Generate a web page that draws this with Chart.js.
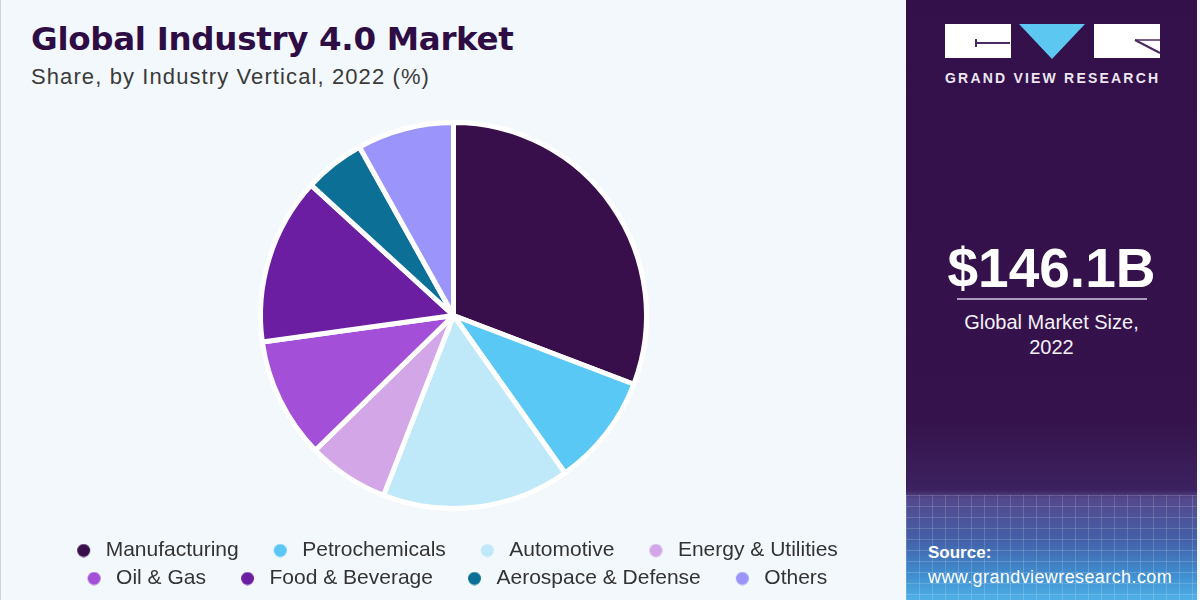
<!DOCTYPE html>
<html>
<head>
<meta charset="utf-8">
<script src="https://cdn.jsdelivr.net/npm/chart.js@4/dist/chart.umd.min.js"></script>
<style>
  html, body { margin:0; padding:0; width:1200px; height:600px; overflow:hidden; background:#f3f8fc; }
  #left { position:absolute; left:0; top:0; width:905px; height:600px; background:#f3f8fc; border-left:1px solid #cfd3d8; box-sizing:border-box; }
  #title { position:absolute; left:30px; top:20px; font-family:"DejaVu Sans", sans-serif; font-weight:bold; font-size:32.5px; color:#2e0d45; white-space:nowrap; letter-spacing:-0.3px; }
  #subtitle { position:absolute; left:30px; top:64px; font-family:"Liberation Sans", Arial, sans-serif; font-size:22px; letter-spacing:1.1px; color:#3a3a3a; white-space:nowrap; }
  #chartWrap { position:absolute; left:0; top:0; width:905px; height:610px; }
  #right { position:absolute; left:906px; top:0; width:291px; height:600px; overflow:hidden;
    background: linear-gradient(to bottom, #33104a 0px, #35124b 420px, #3c2260 490px, #54488c 498px, #4360a8 540px, #3f8ed0 575px, #4fb0e6 600px); }
  #grid { position:absolute; left:0; top:495px; width:291px; height:105px;
    background-image: repeating-linear-gradient(to right, rgba(255,255,255,0.16) 0 1px, transparent 1px 13px),
                      repeating-linear-gradient(to bottom, rgba(255,255,255,0.16) 0 1px, transparent 1px 11px); }
  #edge { position:absolute; left:1197px; top:0; width:3px; height:600px; background:#f3f8fc; }
  .logoRect { position:absolute; top:24px; width:66px; height:34px; background:#ffffff; }
  .rtxt { position:absolute; color:#ffffff; white-space:nowrap; font-family:"Liberation Sans", Arial, sans-serif; }
</style>
</head>
<body>
<div id="left">
  <div id="title">Global Industry 4.0 Market</div>
  <div id="subtitle">Share, by Industry Vertical, 2022 (%)</div>
  <div id="chartWrap"><canvas id="c"></canvas></div>
</div>
<div id="right">
  <div id="grid"></div>
  <div class="logoRect" style="left:39px;"></div>
  <div style="position:absolute; left:69px; top:42px; width:35px; height:2px; background:#4a2a60;"></div>
  <div style="position:absolute; left:69px; top:39px; width:2px; height:8px; background:#4a2a60;"></div>
  <svg style="position:absolute; left:113px; top:24px;" width="67" height="36"><polygon points="0,0 66,0 33,35" fill="#5cc8f2"/></svg>
  <div class="logoRect" style="left:188px;"></div>
  <svg style="position:absolute; left:188px; top:24px;" width="66" height="34"><line x1="41" y1="16" x2="66" y2="29" stroke="#4a2a60" stroke-width="2"/><line x1="41" y1="16" x2="66" y2="16" stroke="#4a2a60" stroke-width="1.5"/></svg>
  <div class="rtxt" style="left:39px; top:70px; font-size:14px; font-weight:bold; letter-spacing:2.2px; color:#ece6f2;">GRAND VIEW RESEARCH</div>
  <div class="rtxt" style="left:0; width:291px; text-align:center; top:236px; font-size:55px; font-weight:bold;">$146.1B</div>
  <div style="position:absolute; left:51px; top:298px; width:190px; height:2px; background:#a99bbb;"></div>
  <div class="rtxt" style="left:0; width:291px; text-align:center; top:310px; font-size:20px; line-height:25px; color:#f4f0f8;">Global Market Size,<br>2022</div>
  <div class="rtxt" style="left:22px; top:543px; font-size:17px; font-weight:bold;">Source:</div>
  <div class="rtxt" style="left:22px; top:567px; font-size:18px; letter-spacing:0.4px;">www.grandviewresearch.com</div>
</div>
<div id="edge"></div>
<script>
const categories = ["Manufacturing", "Petrochemicals", "Automotive", "Energy & Utilities", "Oil & Gas", "Food & Beverage", "Aerospace & Defense", "Others"];
const shares = [30.8, 9.4, 15.7, 6.8, 10.1, 14.0, 5.1, 8.1];
const colors = ["#380f4a", "#5ac8f5", "#bfe9f8", "#d3a6e8", "#a34fd8", "#6b1ea2", "#0b6f96", "#9b95fb"];

function dot(color) {
  const cv = document.createElement('canvas');
  cv.width = 36; cv.height = 14;
  const g = cv.getContext('2d');
  g.fillStyle = color;
  g.beginPath(); g.arc(24.5, 7, 6.5, 0, Math.PI * 2); g.fill();
  return cv;
}
const dots = colors.map(dot);

new Chart(document.getElementById('c'), {
  type: 'pie',
  data: {
    labels: categories,
    datasets: [{ data: shares, backgroundColor: colors, borderColor: '#ffffff', borderWidth: 5, hoverOffset: 0 }]
  },
  options: {
    responsive: true,
    maintainAspectRatio: false,
    animation: false,
    radius: 193,
    layout: { padding: { top: 98, bottom: 11, left: 40, right: 40 } },
    plugins: {
      tooltip: { enabled: false },
      legend: {
        position: 'bottom',
        labels: {
          usePointStyle: true,
          pointStyleWidth: 36,
          padding: 7,
          font: { family: '"Liberation Sans", Arial, sans-serif', size: 21 },
          color: '#333333',
          generateLabels: (chart) => chart.data.labels.map((l, i) => ({
            text: l + ' \u2009',
            fillStyle: colors[i],
            strokeStyle: colors[i],
            lineWidth: 0,
            pointStyle: dots[i],
            fontColor: '#333333',
            hidden: false,
            index: i
          }))
        }
      }
    }
  }
});
</script>
</body>
</html>
